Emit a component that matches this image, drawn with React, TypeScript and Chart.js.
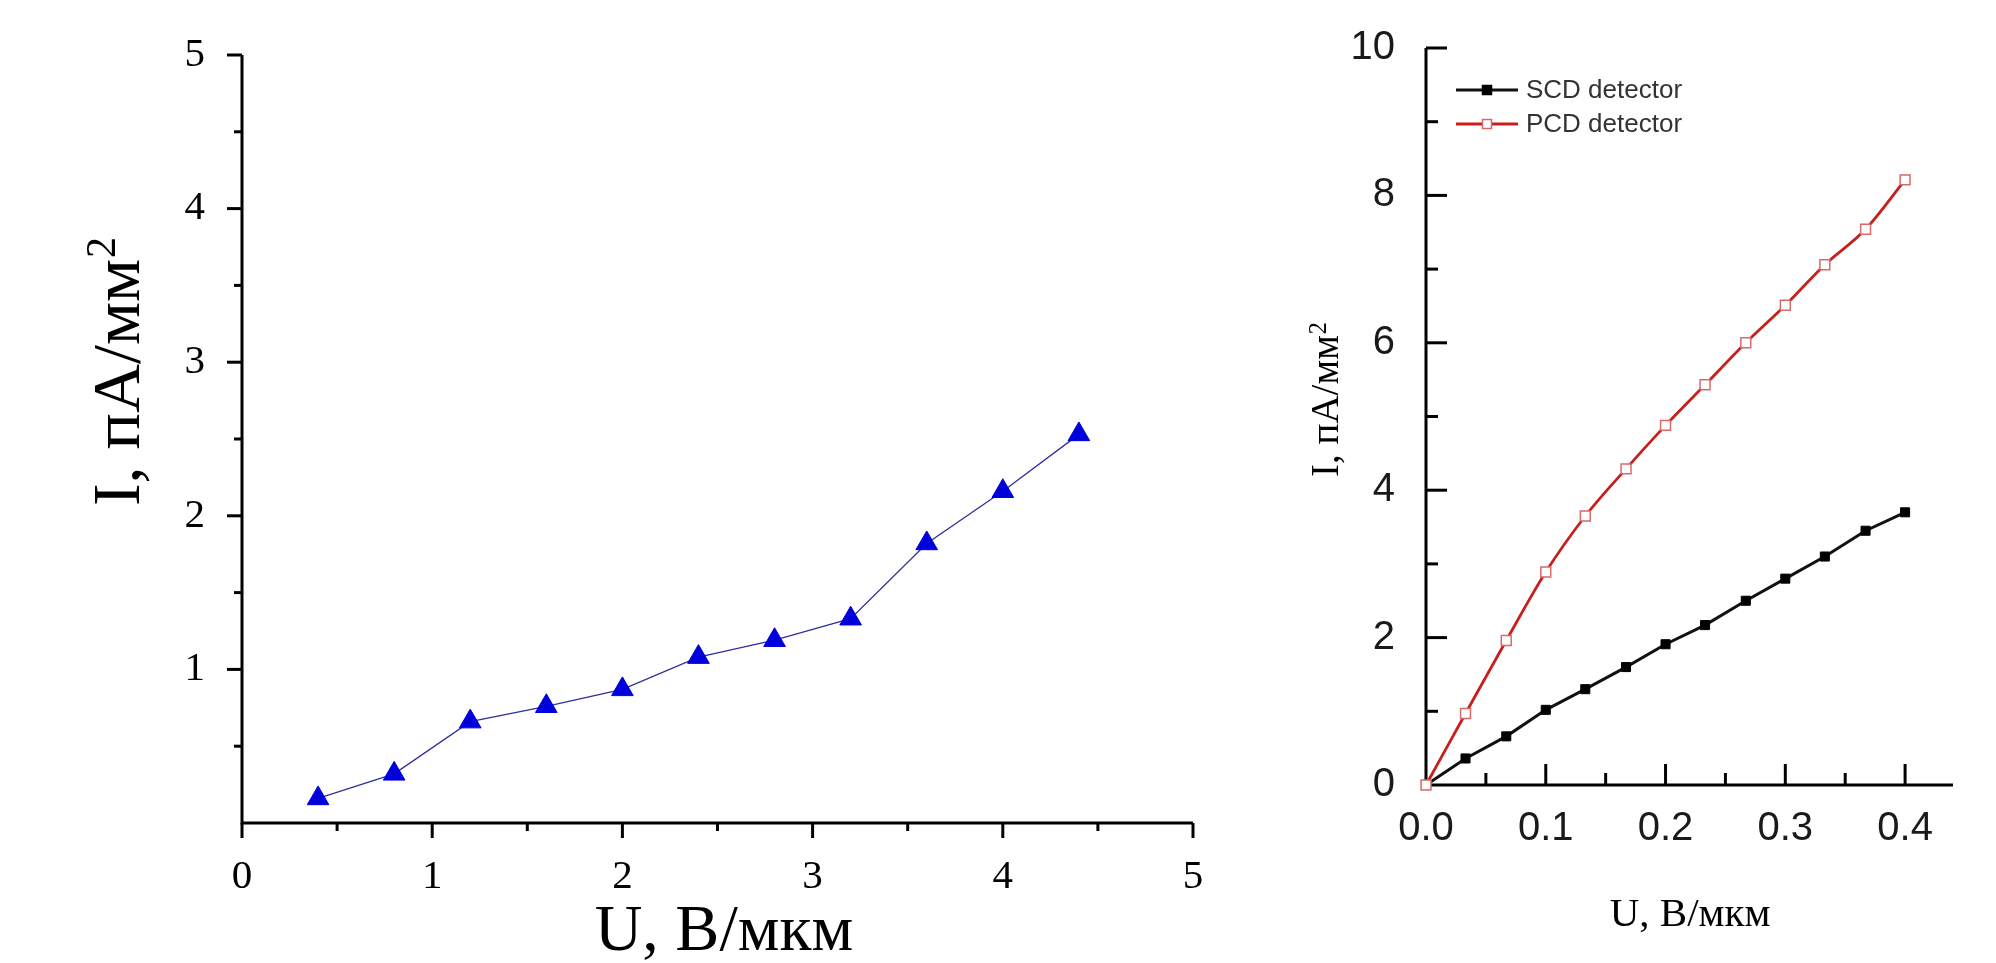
import React, { useEffect, useRef } from 'react';
import { Chart, registerables } from 'chart.js';

Chart.register(...registerables);

// ---------- Left panel data ----------
const leftU = [0.4, 0.8, 1.2, 1.6, 2.0, 2.4, 2.8, 3.2, 3.6, 4.0, 4.4];
const leftI = [0.16, 0.32, 0.66, 0.76, 0.87, 1.08, 1.19, 1.33, 1.82, 2.16, 2.53];
const leftXTicks = [0, 1, 2, 3, 4, 5];
const leftXMinor = [0.5, 1.5, 2.5, 3.5, 4.5];
const leftYTicks = [1, 2, 3, 4, 5];
const leftYMinor = [0.5, 1.5, 2.5, 3.5, 4.5];
const leftXTitle = 'U, В/мкм';
const leftYTitle = 'I, пА/мм²';

// ---------- Right panel data ----------
const rightU = [0, 0.033, 0.067, 0.1, 0.133, 0.167, 0.2, 0.233, 0.267, 0.3, 0.333, 0.367, 0.4];
const scdI = [0, 0.36, 0.66, 1.02, 1.3, 1.6, 1.91, 2.17, 2.5, 2.8, 3.1, 3.45, 3.7];
const pcdI = [0, 0.97, 1.96, 2.89, 3.65, 4.29, 4.88, 5.43, 6.0, 6.51, 7.06, 7.54, 8.21];
const rightXTicks = [0, 0.1, 0.2, 0.3, 0.4];
const rightXMinor = [0.05, 0.15, 0.25, 0.35];
const rightYTicks = [0, 2, 4, 6, 8, 10];
const rightYMinor = [1, 3, 5, 7, 9];
const rightXTitle = 'U, В/мкм';
const rightYTitle = 'I, пА/мм²';
const seriesNames = ['SCD detector', 'PCD detector'];

const LEFT_W = 1250;
const RIGHT_LEFT = 1250;
const RIGHT_W = 1996 - RIGHT_LEFT;

type DecoCfg = {
  xMajor: number[]; xMinor: number[]; yMajor: number[]; yMinor: number[];
  inward: boolean; majorLen: number; minorLen: number; lineW: number;
  xTitle: string; yTitle: string; family: string; xSize: number; ySize: number;
  xTitlePos: [number, number]; yTitlePos: [number, number];
  supScale: number; supRaise: number;
  legend?: { x0: number; x1: number; xm: number; xt: number; y0: number; dy: number };
};

// draws text that may contain a "²" as a real raised superscript, centred at (0,0) baseline
function drawWithSup(ctx: CanvasRenderingContext2D, text: string, family: string, size: number, supScale: number, supRaise: number) {
  const parts = text.split('²');
  const main = parts[0];
  const hasSup = parts.length > 1;
  ctx.font = `${size}px ${family}`;
  const wMain = ctx.measureText(main).width;
  const supSize = size * supScale;
  ctx.font = `${supSize}px ${family}`;
  const wSup = hasSup ? ctx.measureText('2').width : 0;
  const total = wMain + wSup;
  ctx.textAlign = 'left';
  ctx.textBaseline = 'alphabetic';
  ctx.font = `${size}px ${family}`;
  ctx.fillText(main, -total / 2, 0);
  if (hasSup) {
    ctx.font = `${supSize}px ${family}`;
    ctx.fillText('2', -total / 2 + wMain + 1, -size * supRaise);
  }
}

function makeDeco(cfg: DecoCfg) {
  return {
    id: 'deco',
    beforeDatasetsDraw(chart: any) {
      const { ctx, chartArea } = chart;
      const xs = chart.scales.x;
      const ys = chart.scales.y;
      ctx.save();
      ctx.strokeStyle = '#000';
      ctx.lineWidth = cfg.lineW;
      ctx.lineCap = 'butt';
      ctx.lineJoin = 'miter';
      ctx.beginPath();
      ctx.moveTo(chartArea.left, chartArea.top);
      ctx.lineTo(chartArea.left, chartArea.bottom);
      ctx.lineTo(chartArea.right, chartArea.bottom);
      ctx.stroke();
      const sgn = cfg.inward ? -1 : 1;
      const drawX = (vals: number[], len: number) => {
        vals.forEach((v) => {
          const px = xs.getPixelForValue(v);
          ctx.beginPath();
          ctx.moveTo(px, chartArea.bottom);
          ctx.lineTo(px, chartArea.bottom + sgn * len);
          ctx.stroke();
        });
      };
      const drawY = (vals: number[], len: number) => {
        vals.forEach((v) => {
          const py = ys.getPixelForValue(v);
          ctx.beginPath();
          ctx.moveTo(chartArea.left, py);
          ctx.lineTo(chartArea.left - sgn * len, py);
          ctx.stroke();
        });
      };
      drawX(cfg.xMajor.filter((v) => v !== 0 || !cfg.inward), cfg.majorLen);
      drawX(cfg.xMinor, cfg.minorLen);
      drawY(cfg.yMajor.filter((v) => v !== 0), cfg.majorLen);
      drawY(cfg.yMinor, cfg.minorLen);
      ctx.restore();
    },
    afterDraw(chart: any) {
      const { ctx } = chart;
      ctx.save();
      ctx.fillStyle = '#000';
      ctx.translate(cfg.xTitlePos[0], cfg.xTitlePos[1]);
      drawWithSup(ctx, cfg.xTitle, cfg.family, cfg.xSize, cfg.supScale, cfg.supRaise);
      ctx.restore();
      ctx.save();
      ctx.fillStyle = '#000';
      ctx.translate(cfg.yTitlePos[0], cfg.yTitlePos[1]);
      ctx.rotate(-Math.PI / 2);
      drawWithSup(ctx, cfg.yTitle, cfg.family, cfg.ySize, cfg.supScale, cfg.supRaise);
      ctx.restore();

      const lg = cfg.legend;
      if (lg) {
        ctx.save();
        const dsets = chart.data.datasets;
        [0, 1].forEach((i, r) => {
          const ds = dsets[i];
          const y = lg.y0 + r * lg.dy;
          ctx.strokeStyle = ds.borderColor;
          ctx.lineWidth = 3;
          ctx.beginPath();
          ctx.moveTo(lg.x0, y);
          ctx.lineTo(lg.x1, y);
          ctx.stroke();
          const s = 9;
          ctx.fillStyle = ds.pointBackgroundColor;
          ctx.fillRect(lg.xm - s / 2, y - s / 2, s, s);
          ctx.strokeStyle = ds.pointBorderColor;
          ctx.lineWidth = 1.5;
          ctx.strokeRect(lg.xm - s / 2, y - s / 2, s, s);
          ctx.fillStyle = '#333';
          ctx.font = '26px "Liberation Sans", Arial, sans-serif';
          ctx.textAlign = 'left';
          ctx.textBaseline = 'middle';
          ctx.fillText(ds.label, lg.xt, y + 1);
        });
        ctx.restore();
      }
    },
  };
}

const serif = '"Liberation Serif", "Times New Roman", serif';
const sans = '"Liberation Sans", Arial, sans-serif';

function leftConfig(): any {
  return {
    type: 'line',
    data: {
      datasets: [
        {
          label: 'I',
          data: leftU.map((u, i) => ({ x: u, y: leftI[i] })),
          borderColor: '#30309c',
          borderWidth: 1.3,
          pointStyle: 'triangle',
          pointRadius: 12.5,
          pointBackgroundColor: '#0000dc',
          pointBorderColor: '#0000dc',
          pointBorderWidth: 1,
          tension: 0,
          clip: false,
        },
      ],
    },
    options: {
      responsive: false,
      animation: false,
      devicePixelRatio: 1,
      layout: { padding: { left: 142, right: LEFT_W - 1193, top: 55, bottom: 40 } },
      plugins: { legend: { display: false }, tooltip: { enabled: false } },
      scales: {
        x: {
          type: 'linear',
          min: 0,
          max: 5,
          afterFit: (s: any) => { s.height = 100; },
          afterBuildTicks: (s: any) => { s.ticks = leftXTicks.map((v) => ({ value: v })); },
          grid: { display: false },
          border: { display: false },
          ticks: { font: { family: serif, size: 41 }, color: '#000', padding: 22, maxRotation: 0, autoSkip: false },
        },
        y: {
          type: 'linear',
          min: 0,
          max: 5,
          afterFit: (s: any) => { s.width = 100; },
          afterBuildTicks: (s: any) => { s.ticks = leftYTicks.map((v) => ({ value: v })); },
          grid: { display: false },
          border: { display: false },
          ticks: { font: { family: serif, size: 41 }, color: '#000', padding: 29, autoSkip: false },
        },
      },
    },
    plugins: [
      makeDeco({
        xMajor: leftXTicks, xMinor: leftXMinor, yMajor: leftYTicks, yMinor: leftYMinor,
        inward: false, majorLen: 15, minorLen: 8, lineW: 3,
        xTitle: leftXTitle, yTitle: leftYTitle, family: serif, xSize: 66, ySize: 68,
        xTitlePos: [724, 950], yTitlePos: [139, 372],
        supScale: 0.62, supRaise: 0.36,
      }),
    ],
  };
}

function rightConfig(): any {
  const off = RIGHT_LEFT;
  const areaLeft = 1426 - off;
  const areaRight = 1953 - off;
  return {
    type: 'line',
    data: {
      datasets: [
        {
          label: seriesNames[0],
          data: rightU.map((u, i) => ({ x: u, y: scdI[i] })),
          borderColor: '#111111',
          borderWidth: 3,
          pointStyle: 'rect',
          pointRadius: 6.4,
          pointBackgroundColor: '#000000',
          pointBorderColor: '#000000',
          pointBorderWidth: 1,
          tension: 0,
          clip: false,
          order: 1,
        },
        {
          label: seriesNames[1],
          data: rightU.map((u, i) => ({ x: u, y: pcdI[i] })),
          borderColor: '#c81e1e',
          borderWidth: 2.8,
          pointStyle: 'rect',
          pointRadius: 7,
          pointBackgroundColor: '#ffffff',
          pointBorderColor: '#d86a6a',
          pointBorderWidth: 1.5,
          cubicInterpolationMode: 'monotone',
          clip: false,
          order: 0,
        },
      ],
    },
    options: {
      responsive: false,
      animation: false,
      devicePixelRatio: 1,
      layout: { padding: { left: areaLeft - 80, right: RIGHT_W - areaRight, top: 48, bottom: 963 - 785 - 100 } },
      plugins: { legend: { display: false }, tooltip: { enabled: false } },
      scales: {
        x: {
          type: 'linear',
          min: 0,
          max: 0.44,
          afterFit: (s: any) => { s.height = 100; },
          afterBuildTicks: (s: any) => { s.ticks = rightXTicks.map((v) => ({ value: v })); },
          grid: { display: false },
          border: { display: false },
          ticks: {
            font: { family: sans, size: 40 }, color: '#1a1a1a', padding: 12, maxRotation: 0, autoSkip: false,
            callback: (v: any) => Number(v).toFixed(1),
          },
        },
        y: {
          type: 'linear',
          min: 0,
          max: 10,
          afterFit: (s: any) => { s.width = 80; },
          afterBuildTicks: (s: any) => { s.ticks = rightYTicks.map((v) => ({ value: v })); },
          grid: { display: false },
          border: { display: false },
          ticks: { font: { family: sans, size: 40 }, color: '#1a1a1a', padding: 23, autoSkip: false },
        },
      },
    },
    plugins: [
      makeDeco({
        xMajor: rightXTicks, xMinor: rightXMinor, yMajor: rightYTicks, yMinor: rightYMinor,
        inward: true, majorLen: 21, minorLen: 12, lineW: 3,
        xTitle: rightXTitle, yTitle: rightYTitle, family: serif, xSize: 41, ySize: 39,
        xTitlePos: [1690 - off, 926], yTitlePos: [1338 - off, 400],
        supScale: 0.62, supRaise: 0.3,
        legend: { x0: 1456 - off, x1: 1518 - off, xm: 1487 - off, xt: 1526 - off, y0: 90, dy: 34 },
      }),
    ],
  };
}

export default function App() {
  const leftRef = useRef<HTMLCanvasElement>(null);
  const rightRef = useRef<HTMLCanvasElement>(null);
  useEffect(() => {
    const c1 = new Chart(leftRef.current as HTMLCanvasElement, leftConfig());
    const c2 = new Chart(rightRef.current as HTMLCanvasElement, rightConfig());
    return () => {
      c1.destroy();
      c2.destroy();
    };
  }, []);
  return (
    <div style={{ position: 'fixed', left: 0, top: 0, width: 1996, height: 963, background: '#fff', overflow: 'hidden' }}>
      <canvas ref={leftRef} width={LEFT_W} height={963} style={{ position: 'absolute', left: 0, top: 0, width: LEFT_W, height: 963 }} />
      <canvas ref={rightRef} width={RIGHT_W} height={963} style={{ position: 'absolute', left: RIGHT_LEFT, top: 0, width: RIGHT_W, height: 963 }} />
    </div>
  );
}
